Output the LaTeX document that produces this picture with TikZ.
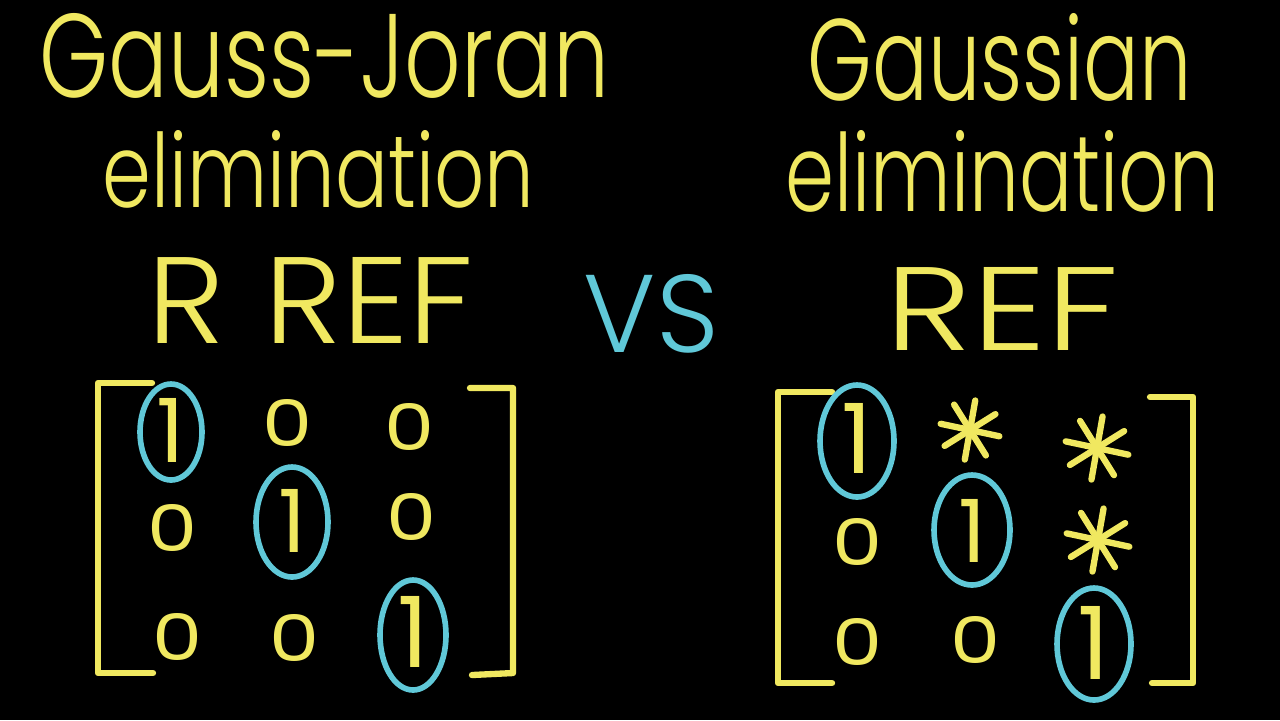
\documentclass[tikz,border=0pt]{standalone}
\usepackage{graphicx}
\usepackage{fontspec}
\setmainfont{Poppins}
\newfontfamily\handfont{Poppins Light}
\usetikzlibrary{calc}
\definecolor{chalkyellow}{RGB}{240,232,96}
\definecolor{chalkcyan}{RGB}{96,200,216}
\newcommand{\zeroentry}{\resizebox{0.50cm}{0.47cm}{0}}
\newcommand{\oneentry}[1]{\resizebox{!}{#1}{1}}
\newcommand{\starentry}[2]
{   \foreach \a in {12,58,100,148}
      \draw[chalk] ($(#1)+(\a:#2)$) -- ($(#1)+(\a+180:#2)$);
}
\tikzset{
  chalk/.style={draw=chalkyellow, line width=1.8pt, line cap=round, line join=round},
  pivot/.style={draw=chalkcyan, line width=1.6pt},
  entry/.style={text=chalkyellow, inner sep=0pt},
  title/.style={text=chalkyellow, inner sep=0pt, anchor=base west, font=\handfont},
}

\begin{document}
\begin{tikzpicture}[x=0.01cm, y=-0.01cm]

 \fill[black] (0,0) rectangle (1280,720);

 % left: Gauss-Jordan
 \node[title] (gjname) at (39,97) {\resizebox{5.69cm}{0.84cm}{Gauss-Joran}};
 \node[title] (gjelim) at (102,207) {\resizebox{4.31cm}{0.77cm}{elimination}};
 \node[title] (rref) at (147,343) {\resizebox{3.26cm}{0.86cm}{R\hspace{0.3em}REF}};

 \node[title, text=chalkcyan] (vs) at (583,352) {\resizebox{1.35cm}{0.78cm}{VS}};

 % right: Gaussian
 \node[title] (gname) at (807,100) {\resizebox{3.84cm}{0.87cm}{Gaussian}};
 \node[title] (gelim) at (785,211) {\resizebox{4.33cm}{0.81cm}{elimination}};
 \node[title] (ref) at (885,350) {\resizebox{2.33cm}{0.83cm}{REF}};

 % RREF matrix
 \draw[chalk] (152,383) -- (98,383) -- (98,673) -- (153,673);
 \draw[chalk] (470,388) -- (513,388) -- (513,673) -- (472,675);
 \node[entry] (gj11) at (171,430) {\oneentry{0.64cm}};
 \node[entry] (gj12) at (288,423) {\zeroentry};
 \node[entry] (gj13) at (410,427) {\zeroentry};
 \node[entry] (gj21) at (173,528) {\zeroentry};
 \node[entry] (gj22) at (292,521) {\oneentry{0.63cm}};
 \node[entry] (gj23) at (412,517) {\zeroentry};
 \node[entry] (gj31) at (178,637) {\zeroentry};
 \node[entry] (gj32) at (295,638) {\zeroentry};
 \node[entry] (gj33) at (413,632) {\oneentry{0.71cm}};
   \draw[pivot] (171,432) ellipse [x radius=31, y radius=48];
   \draw[pivot] (292,522) ellipse [x radius=36, y radius=55];
   \draw[pivot] (413,635) ellipse [x radius=33, y radius=55];

 % REF matrix
 \draw[chalk] (832,392) -- (778,392) -- (778,683) -- (832,683);
 \draw[chalk] (1150,397) -- (1193,397) -- (1193,683) -- (1152,683);
 \node[entry] (g11) at (857,438) {\oneentry{0.70cm}};
 \coordinate (g12) at (970,430);
 \coordinate (g13) at (1097,448);
 \node[entry] (g21) at (857,542) {\zeroentry};
 \node[entry] (g22) at (972,531) {\oneentry{0.63cm}};
 \coordinate (g23) at (1098,540);
 \node[entry] (g31) at (857,642) {\zeroentry};
 \node[entry] (g32) at (975,640) {\zeroentry};
 \node[entry] (g33) at (1094,643) {\oneentry{0.73cm}};
 \starentry{g12}{30} \starentry{g13}{32} \starentry{g23}{32}
   \draw[pivot] (857,441) ellipse [x radius=37, y radius=56];
   \draw[pivot] (972,530) ellipse [x radius=38, y radius=55];
   \draw[pivot] (1094,644) ellipse [x radius=37, y radius=56];

\end{tikzpicture}
\end{document}
